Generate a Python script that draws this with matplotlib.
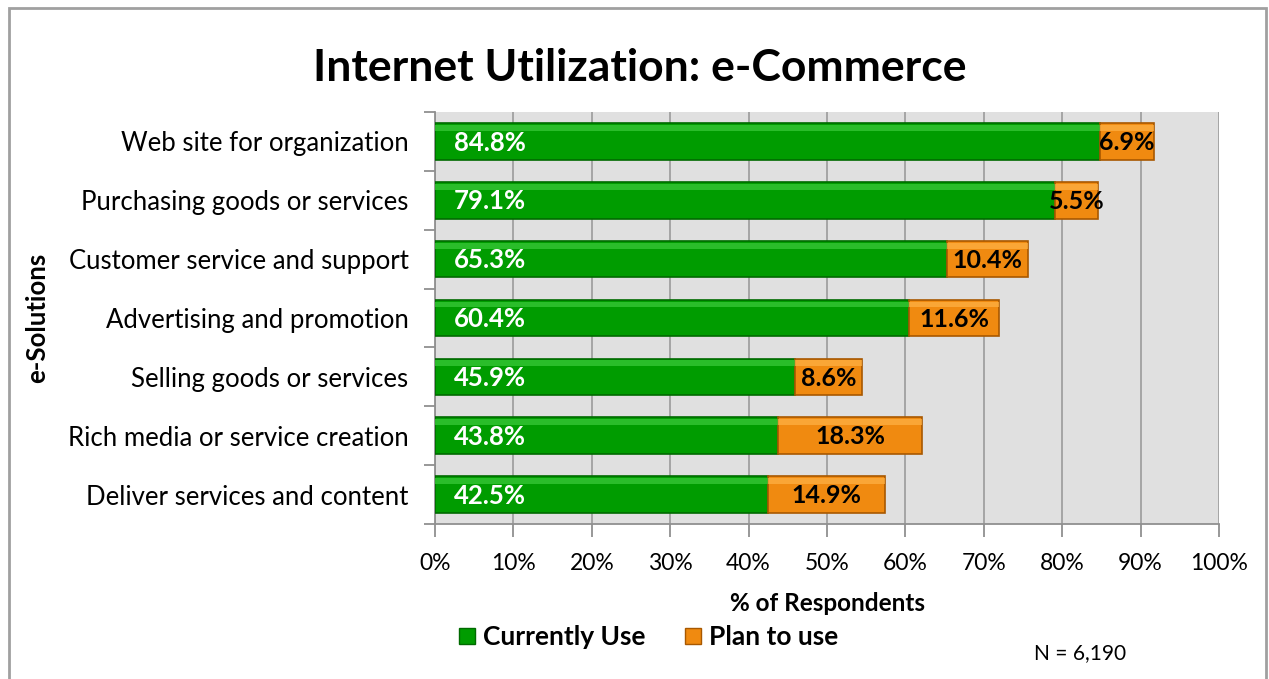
import matplotlib.pyplot as plt
from matplotlib.patches import Rectangle
from matplotlib.lines import Line2D

solutions = [
    "Web site for organization",
    "Purchasing goods or services",
    "Customer service and support",
    "Advertising and promotion",
    "Selling goods or services",
    "Rich media or service creation",
    "Deliver services and content",
]
currently_use = [84.8, 79.1, 65.3, 60.4, 45.9, 43.8, 42.5]
plan_to_use = [6.9, 5.5, 10.4, 11.6, 8.6, 18.3, 14.9]
x_ticks = [0, 10, 20, 30, 40, 50, 60, 70, 80, 90, 100]

plt.rcParams['font.family'] = ['Lato', 'DejaVu Sans']

GREEN, GREEN_HI, GREEN_EDGE = "#009c00", "#3ccc3c", "#006a00"
ORANGE, ORANGE_HI, ORANGE_EDGE = "#f08a10", "#ffb347", "#a85800"

fig = plt.figure(figsize=(12.69, 6.79), dpi=100)
ax = fig.add_axes([435 / 1269, 1 - 524 / 679, 784 / 1269, 412 / 679])
ax.set_facecolor("#e0e0e0")

ypos = list(range(len(solutions)))
h = 0.62

# main bar bodies
ax.barh(ypos, currently_use, height=h, color=GREEN, edgecolor=GREEN_EDGE, linewidth=1.2, zorder=3)
ax.barh(ypos, plan_to_use, left=currently_use, height=h, color=ORANGE,
        edgecolor=ORANGE_EDGE, linewidth=1.2, zorder=3)

# bevel highlight along the top of each bar
hi_y = [y - h / 2 + 0.08 for y in ypos]
ax.barh(hi_y, currently_use, height=0.1, color=GREEN_HI, linewidth=0, zorder=4, alpha=0.7)
ax.barh(hi_y, plan_to_use, left=currently_use, height=0.1, color=ORANGE_HI,
        linewidth=0, zorder=4, alpha=0.7)

for y, cu, pl in zip(ypos, currently_use, plan_to_use):
    ax.text(2.4, y + 0.02, f"{cu}%", color="white", fontsize=18.5, fontweight="bold",
            va="center", ha="left", zorder=5)
    ax.text(cu + pl / 2, y + 0.02, f"{pl}%", color="black", fontsize=18, fontweight="bold",
            va="center", ha="center", zorder=5)

ax.set_xlim(0, 100)
ax.set_ylim(len(solutions) - 0.5, -0.5)
ax.set_xticks(x_ticks)
ax.set_xticklabels([f"{t}%" for t in x_ticks], fontsize=16.5)
ax.xaxis.grid(True, color="#a0a0a0", linewidth=1.3, zorder=1)
ax.set_axisbelow(True)

ax.set_yticks(ypos)
ax.set_yticklabels(solutions, fontsize=18.5)
ax.set_yticks([y - 0.5 for y in range(len(solutions) + 1)], minor=True)
ax.tick_params(axis="y", which="major", length=0, pad=19)
ax.tick_params(axis="y", which="minor", length=8, color="#909090", width=1.3)
ax.tick_params(axis="x", length=9, color="#909090", width=1.3, pad=12)

for side in ["top", "right"]:
    ax.spines[side].set_visible(False)
for side in ["left", "bottom"]:
    ax.spines[side].set_color("#909090")
    ax.spines[side].set_linewidth(1.3)

ax.set_xlabel("% of Respondents", fontsize=17.5, fontweight="bold", labelpad=13)
ax.set_ylabel("e-Solutions", fontsize=18.5, fontweight="bold")
ax.yaxis.set_label_coords(-0.492, 0.5)

fig.text(0.504, 1 - 68 / 679, "Internet Utilization: e-Commerce", fontsize=32,
         fontweight="bold", ha="center", va="center")

handles = [
    Line2D([], [], marker="s", linestyle="none", markersize=12,
           markerfacecolor=GREEN, markeredgecolor=GREEN_EDGE),
    Line2D([], [], marker="s", linestyle="none", markersize=12,
           markerfacecolor=ORANGE, markeredgecolor=ORANGE_EDGE),
]
fig.legend(handles, ["Currently Use", "Plan to use"], loc="center",
           bbox_to_anchor=(0.509, 1 - 637 / 679), ncol=2, frameon=False,
           prop={"weight": "bold", "size": 19}, handletextpad=0.1,
           columnspacing=1.3, handlelength=1.0)

fig.text(1080 / 1269, 1 - 653 / 679, "N = 6,190", fontsize=15, ha="center", va="center")

fig.patches.append(Rectangle((9 / 1269, -0.05), 1257 / 1269, 1.05 - 8 / 679,
                             transform=fig.transFigure, fill=False,
                             edgecolor="#a0a0a0", linewidth=2))

fig.savefig("out.png", dpi=100)
